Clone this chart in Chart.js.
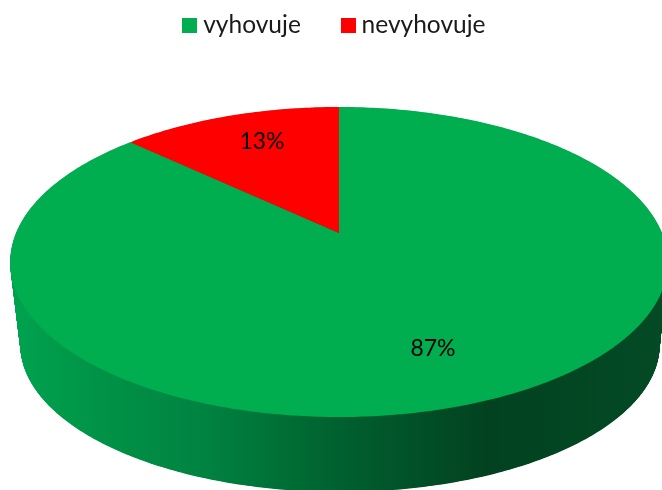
<!DOCTYPE html>
<html>
<head>
<meta charset="utf-8">
<style>
  html, body { margin: 0; padding: 0; background: #fff; }
  canvas { display: block; }
</style>
<script src="https://cdn.jsdelivr.net/npm/chart.js@4"></script>
</head>
<body>
<canvas id="pieChart" width="662" height="490"></canvas>
<script>
const categories = ['vyhovuje', 'nevyhovuje'];
const shares = [87, 13];
const sliceColors = ['#00AE50', '#FF0000'];

const textFont = 'Lato, Carlito, sans-serif';
const legendSize = 24.5;
const labelSize = 23;

// tilted disc: top face and bottom face of the 3D pie
const topFace = { x: 339, y: 233, ax: 323, ay: 149.6 };
const bottomFace = { x: 340, y: 317.5, ax: 314, ay: 141.9 };
const tilt = 0.187;
const labelSpots = [[433, 349], [262, 142]];

function project(face, angle, r) {
  // chart.js angles start at -PI/2, so shift them to clockwise from the top
  const t = angle + Math.PI / 2;
  const u = Math.sin(t) * r;
  const v = -Math.cos(t) * r;
  const w = 1 - tilt * v;
  return [face.x + face.ax * u / w, face.y + face.ay * v / w];
}

function traceSlice(ctx, face, start, end, toCentre) {
  ctx.beginPath();
  const steps = Math.ceil((end - start) * 80);
  for (let i = 0; i <= steps; i++) {
    const p = project(face, start + (end - start) * i / steps, 1);
    if (i === 0) ctx.moveTo(p[0], p[1]);
    else ctx.lineTo(p[0], p[1]);
  }
  if (toCentre) {
    const c = project(face, 0, 0);
    ctx.lineTo(c[0], c[1]);
  }
  ctx.closePath();
}

function legendSwatch(color) {
  const c = document.createElement('canvas');
  c.width = 15;
  c.height = 15;
  const g = c.getContext('2d');
  g.fillStyle = color;
  g.fillRect(0, 0, 15, 15);
  return c;
}

const tiltedPie = {
  id: 'tiltedPie',
  beforeDatasetsDraw(chart) {
    const ctx = chart.ctx;
    const arcs = chart.getDatasetMeta(0).data;

    // side wall, lit from the left
    const side = ctx.createLinearGradient(10, 0, 662, 0);
    side.addColorStop(0, '#00A34F');
    side.addColorStop(0.17, '#008F45');
    side.addColorStop(0.29, '#008441');
    side.addColorStop(0.52, '#005E2E');
    side.addColorStop(0.73, '#024220');
    side.addColorStop(1, '#034A25');
    ctx.save();
    ctx.fillStyle = side;
    const layers = 170;
    for (let i = layers; i > 0; i--) {
      const s = i / layers;
      const face = {
        x: topFace.x + (bottomFace.x - topFace.x) * s,
        y: topFace.y + (bottomFace.y - topFace.y) * s,
        ax: topFace.ax + (bottomFace.ax - topFace.ax) * s,
        ay: topFace.ay + (bottomFace.ay - topFace.ay) * s
      };
      traceSlice(ctx, face, -Math.PI / 2, Math.PI * 1.5, false);
      ctx.fill();
    }

    // top face
    arcs.forEach((arc, i) => {
      traceSlice(ctx, topFace, arc.startAngle, arc.endAngle, true);
      ctx.fillStyle = sliceColors[i];
      ctx.fill();
    });

    // percent labels
    ctx.fillStyle = '#000';
    ctx.font = labelSize + 'px ' + textFont;
    ctx.textAlign = 'center';
    ctx.textBaseline = 'middle';
    shares.forEach((v, i) => {
      ctx.fillText(v + '%', labelSpots[i][0], labelSpots[i][1]);
    });
    ctx.restore();
    return false;
  }
};

const ctx = document.getElementById('pieChart').getContext('2d');
new Chart(ctx, {
  type: 'pie',
  data: {
    labels: categories,
    datasets: [{
      data: shares,
      backgroundColor: sliceColors,
      borderWidth: 0
    }]
  },
  options: {
    responsive: false,
    animation: false,
    // legend padding also pushes it down, so pull it back up
    layout: { padding: { left: 12, top: -33 } },
    plugins: {
      tooltip: { enabled: false },
      legend: {
        position: 'top',
        labels: {
          usePointStyle: true,
          pointStyleWidth: 2.5,
          padding: 46,
          color: '#1a1a1a',
          font: { family: textFont, size: legendSize },
          generateLabels(chart) {
            return categories.map((name, i) => ({
              text: name,
              fontColor: '#1a1a1a',
              pointStyle: legendSwatch(sliceColors[i]),
              lineWidth: 0,
              hidden: false,
              index: i
            }));
          }
        }
      }
    }
  },
  plugins: [tiltedPie]
});
</script>
</body>
</html>
